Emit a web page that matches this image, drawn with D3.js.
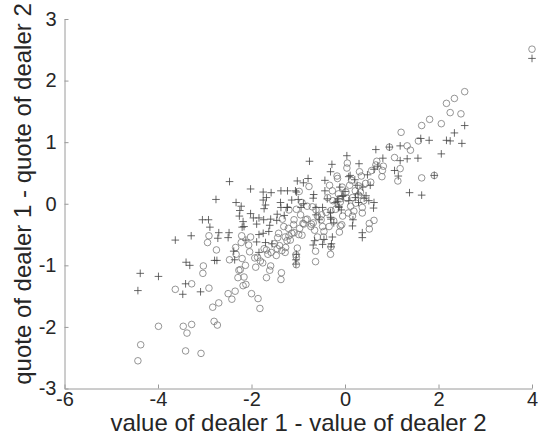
<!DOCTYPE html>
<html>
<head>
<meta charset="utf-8">
<script src="https://cdn.jsdelivr.net/npm/d3@7"></script>
<style>
  html, body { margin: 0; padding: 0; background: #fff; }
  svg { display: block; font-family: "Liberation Sans", Arial, Helvetica, sans-serif; }
</style>
</head>
<body>
<svg id="chart" width="538" height="442"></svg>
<script>
// Quote difference vs. value difference for two dealers.
// Circles and plus signs are the two groups of observations.
const circleX = [
  4.00, 2.56, 2.34, 2.17, 2.25, 2.48, 1.81, 2.06, 1.64, 1.20, 1.57, 1.33, 1.40, 0.95, 1.06, 1.18, 1.13, 1.64, 1.91,
  0.80, 0.79, 0.68, 0.66, 0.57, 0.55, 0.35, 0.31, 0.04, 0.14, 0.10, 0.29, 0.29, 0.16, 0.37, 0.62, 0.52, 0.16,
  -0.07, -0.12, -0.31, -0.46, -0.63, -0.63, -0.33, -0.27, -0.14, -0.10, -0.77, -0.92, -1.04, -0.95, -1.09, -0.90,
  -0.97, -1.14, -0.92, -1.28, -1.17, -1.40, -1.28, -1.47, -1.65, -1.73, -1.05, -1.04, -1.37, -1.61, -1.68, -1.76,
  -1.87, -1.91, -1.86, -1.82, -2.00, -2.22, -2.02, -2.04, -2.20, -2.13, -2.24, -2.29, -2.12, -2.18, -2.33, -2.47,
  -2.35, -2.50, -2.42, -2.70, -2.83, -2.80, -2.73, -2.75, -2.94, -3.04, -2.91, -3.28, -3.63, -3.99, -3.46, -3.28,
  -3.38, -3.41, -3.08, -4.37, -4.43,
  -0.16, -0.06, 0.02, 0.04, -0.10, -0.20, -0.30, -0.40, -0.50, -0.59, -0.51, -0.68, -0.73, -0.65, -0.84, -0.81,
  -0.37, -0.26, 0.12, 0.23, 0.40, 0.33, 0.44, 0.22, 0.07, -0.05, -0.48, -0.59, -0.34, -1.31, -1.21, -1.10, -1.34,
  -1.42, -1.51, -1.45, -1.58, -1.35, -0.98, -1.20, -0.70, -0.62,
  0.19, 0.52, 0.37, -0.45, -0.10, -0.24, -1.02, -1.04, -0.30, -0.88, -0.99, -1.09, -0.81, -0.72, 0.05, -0.17, 0.82,
  -2.91, -2.21, -2.06, -2.34, -3.03, -2.27, -1.81, -1.59, -2.16, -1.36, -1.44, -1.24, -1.27, -1.68, -1.93, -1.20
];
const circleY = [
  2.51, 1.82, 1.71, 1.63, 1.48, 1.46, 1.37, 1.30, 1.27, 1.16, 1.02, 0.94, 0.87, 0.92, 0.75, 0.57, 0.37, 0.42, 0.46,
  0.54, 0.44, 0.69, 0.63, 0.54, 0.35, 0.45, 0.52, 0.58, 0.38, 0.30, 0.29, 0.14, 0.10, -0.15, -0.27, -0.41, -0.20,
  -0.34, -0.46, -0.82, -0.54, -0.77, -0.94, 0.30, 0.21, 0.16, 0.08, 0.28, 0.02, -0.09, -0.18, -0.26, -0.32,
  -0.40, -0.48, -0.51, -0.54, -0.59, -0.68, -0.79, -0.84, -0.82, -0.73, -0.83, -0.99, -1.23, -1.08, -1.20, -0.96,
  -0.87, -1.03, -1.54, -1.70, -1.46, -0.63, -0.54, -0.78, -0.89, -1.00, -1.07, -1.20, -1.31, -1.33, -0.82, -0.91,
  -1.42, -1.46, -1.55, -1.61, -1.68, -1.91, -1.97, -0.75, -0.63, -1.13, -1.37, -1.30, -1.39, -1.99, -1.99, -1.96,
  -2.10, -2.39, -2.43, -2.29, -2.55,
  0.41, 0.27, 0.19, 0.09, 0.03, -0.09, -0.11, -0.14, -0.18, -0.20, -0.26, -0.31, -0.37, -0.43, -0.26, -0.04,
  0.10, 0.05, -0.04, 0.01, 0.05, 0.19, 0.33, 0.21, -0.15, -0.20, -0.37, -0.54, -0.37, -0.37, -0.40, -0.34, -0.25,
  -0.48, -0.65, -0.73, -0.79, -0.76, 0.20, -0.10, -0.05, -0.10,
  -0.12, -0.32, -0.06, -0.45, -0.36, -0.28, -0.72, -0.87, -0.70, -0.33, -0.50, -0.47, -0.25, -0.33, 0.66, 0.45, 0.61,
  -0.52, -0.52, -0.67, -0.71, -1.01, -1.08, -0.93, -1.01, -1.19, -1.12, -0.55, -0.60, -0.71, -0.75, -0.88, -0.52
];
const plusX = [
  4.00, 2.56, 2.34, 2.17, 2.25, 2.50, 1.80, 1.62, 1.18, 1.33, 1.56, 2.06, 1.18, 1.06, 1.14, 1.38, 1.64, 0.95, 1.91,
  0.66, 0.81, 0.70, 0.62, 0.48, 0.54, 0.61, 0.37, 0.16, 0.04, 0.30, -0.28, -0.31, -0.43, -0.76, -0.79, -0.89,
  -1.02, -1.06, -1.23, -1.37, -1.58, -1.75, -1.75, -1.68, -2.02, -2.47, -2.76, -2.33, -2.22, -2.26, -1.96, -1.73,
  -1.74, -1.89, -2.16, -2.20, -2.12, -1.89, -1.75, -1.61, -1.45, -3.05, -2.92, -2.89, -3.29, -3.63, -2.72, -2.50,
  -2.79, -2.74, -2.36, -3.40, -3.32, -3.41, -3.47, -3.09, -3.99, -4.38, -4.43, -1.05, -0.48, -0.29, -0.68, 0.41,
  -1.37, -1.23, -1.30, -1.14, -1.04, -1.00, -0.94, -0.89, -0.68, -0.62, -0.62, -0.55, -0.48, -0.43, -0.31, -0.30,
  -0.21, -0.15, -0.13, -0.11, -0.04, 0.00, 0.08, 0.11, 0.21, 0.26, 0.28, 0.38, 0.45, 0.51, 0.29, -0.13, -0.08,
  -1.63, -1.05, -0.30,
  -0.67, -0.38, -0.17, -0.06, 0.08, 0.22, 0.17, 0.37, 0.62, -0.65, -0.45, -0.27, -1.04, -0.31, -0.24,
  -2.25, -2.02, -1.84, -1.70, -1.38, -1.24, -2.18, -1.59, -1.46, -2.70, -2.48, -1.84, -2.38, -1.70, -1.56, -1.84
];
const plusY = [
  2.36, 1.27, 1.15, 1.03, 1.02, 0.98, 1.03, 1.06, 0.94, 0.73, 0.74, 0.81, 0.70, 0.54, 0.45, 0.18, 0.14, 0.92, 0.46,
  0.88, 0.74, 0.61, 0.56, 0.47, 0.30, -0.07, -0.55, -0.36, 0.78, 0.65, 0.64, 0.52, 0.38, 0.69, 0.41, 0.34,
  0.37, 0.21, 0.21, 0.21, 0.18, 0.19, 0.06, 0.10, 0.24, 0.36, 0.07, 0.02, -0.04, -0.20, -0.23, -0.08,
  -0.26, -0.33, -0.37, -0.38, -0.59, -0.62, -0.48, -0.35, -0.17, -0.26, -0.26, -0.38, -0.52, -0.59, -0.56, -0.55,
  -0.92, -0.92, -0.91, -0.95, -1.00, -1.30, -1.47, -1.43, -1.18, -1.13, -1.41, -0.91, -0.66, -0.65, -0.67, 0.09,
  -0.06, -0.06, -0.19, 0.06, 0.19, 0.07, -0.06, 0.00, 0.09, -0.06, -0.18, -0.26, -0.06, 0.21, -0.22, -0.25,
  0.02, 0.08, -0.04, 0.27, 0.13, 0.20, 0.44, 0.46, 0.39, 0.30, 0.16, 0.27, 0.13, 0.05, 0.02, -0.06, -0.10,
  -0.45, -0.98, -0.70,
  0.15, 0.08, 0.04, 0.12, 0.05, 0.10, -0.26, -0.47, 0.02, -0.60, -0.58, -0.54, -0.82, -0.14, -0.31,
  -0.11, -0.16, -0.23, -0.02, 0.02, -0.06, -0.29, -0.25, -0.27, -0.47, -0.47, -0.50, -0.77, -0.63, -0.65, -0.79
];
const xTicks = [-6, -4, -2, 0, 2, 4];
const yTicks = [-3, -2, -1, 0, 1, 2, 3];
const xTitle = "value of dealer 1 - value of dealer 2";
const yTitle = "quote of dealer 1 - quote of dealer 2";

const svg = d3.select("#chart");
const plotLeft = 64.5, plotRight = 532, plotTop = 19, plotBottom = 388.5;

const x = d3.scaleLinear().domain([-6, 4]).range([plotLeft, plotRight]);
const y = d3.scaleLinear().domain([-3, 3]).range([plotBottom, plotTop]);

const circles = circleX.map((v, i) => ({ x: v, y: circleY[i] }));
const pluses = plusX.map((v, i) => ({ x: v, y: plusY[i] }));

// axes: ticks point into the plot
const xAxis = svg.append("g")
  .attr("transform", `translate(0,${plotBottom})`)
  .call(d3.axisBottom(x).tickValues(xTicks).tickSizeInner(-4).tickSizeOuter(0).tickPadding(3.5)
    .tickFormat(d => String(d)));
const yAxis = svg.append("g")
  .attr("transform", `translate(${plotLeft},0)`)
  .call(d3.axisLeft(y).tickValues(yTicks).tickSizeInner(-4).tickSizeOuter(0).tickPadding(8)
    .tickFormat(d => String(d)));

[xAxis, yAxis].forEach(g => {
  g.select(".domain").attr("stroke", "#9a9a9a").attr("stroke-width", 1);
  g.selectAll(".tick line").attr("stroke", "#9a9a9a");
  g.selectAll(".tick text").attr("fill", "#262626").style("font-size", "20px")
    .style("font-family", "'Liberation Sans', Arial, Helvetica, sans-serif");
});

// circles
svg.append("g")
  .selectAll("circle")
  .data(circles)
  .join("circle")
  .attr("cx", d => x(d.x))
  .attr("cy", d => y(d.y))
  .attr("r", 3.3)
  .attr("fill", "none")
  .attr("stroke", "#7a7a7a")
  .attr("stroke-width", 0.8);

// plus signs
svg.append("g")
  .selectAll("path")
  .data(pluses)
  .join("path")
  .attr("transform", d => `translate(${x(d.x)},${y(d.y)})`)
  .attr("d", "M-3.8,0H3.8M0,-3.8V3.8")
  .attr("fill", "none")
  .attr("stroke", "#444")
  .attr("stroke-width", 0.8);

// axis titles
svg.append("text")
  .attr("x", 298.5)
  .attr("y", 431)
  .attr("text-anchor", "middle")
  .attr("fill", "#262626")
  .style("font-size", "24px")
  .text(xTitle);

svg.append("text")
  .attr("transform", "translate(31,194) rotate(-90)")
  .attr("text-anchor", "middle")
  .attr("fill", "#262626")
  .style("font-size", "24px")
  .text(yTitle);
</script>
</body>
</html>
